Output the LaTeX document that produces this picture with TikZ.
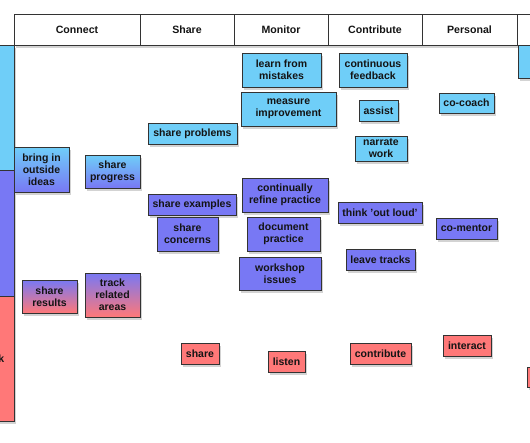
\documentclass[tikz,border=0pt]{standalone}
\usepackage{fontspec}
\setmainfont{Liberation Sans}
\usetikzlibrary{shadows}
\definecolor{cardcyan}{HTML}{6FCEF8}
\definecolor{cardblue}{HTML}{7878F4}
\definecolor{cardred}{HTML}{FF7878}
\definecolor{cardline}{HTML}{333333}
\definecolor{cardtext}{HTML}{141414}
\newcommand{\fC}{\fontsize{10.5}{11.8}\selectfont\bfseries}
\newcommand{\fH}{\fontsize{10.6}{12}\selectfont\bfseries}
\tikzset{
  card/.style={draw=cardline,line width=0.9pt,align=center,inner sep=1pt,
    font=\fC,text=cardtext,
    drop shadow={shadow xshift=1.5pt,shadow yshift=-2.5pt,opacity=0.35}},
  cyancard/.style={card,fill=cardcyan},
  bluecard/.style={card,fill=cardblue},
  redcard/.style={card,fill=cardred},
  headcell/.style={draw=cardline,line width=0.9pt,fill=white,font=\fH,
    text=cardtext,inner sep=0pt,minimum height=31},
  bar/.style={draw=cardline,line width=0.9pt}}

\begin{document}
\begin{tikzpicture}[x=1pt,y=-1pt]
  \path[use as bounding box] (0,0) rectangle (530,442);

  % header row, y = 14 .. 45
  \path[fill=white,drop shadow={shadow xshift=1.5pt,shadow yshift=-2.5pt,opacity=0.35}]
    (14,14) rectangle (560,45);
  \node[headcell,minimum width=126] (hconnect) at (77,29.5) {Connect};
  \node[headcell,minimum width=94] (hshare) at (187,29.5) {Share};
  \node[headcell,minimum width=94] (hmonitor) at (281,29.5) {Monitor};
  \node[headcell,minimum width=94] (hcontribute) at (375,29.5) {Contribute};
  \node[headcell,minimum width=95] (hpersonal) at (469.5,29.5) {Personal};
  \node[headcell,minimum width=43] (hnext) at (538.5,29.5) {};

  % left bar, three bands
  \path[fill=white,drop shadow={shadow xshift=1.5pt,shadow yshift=-2.5pt,opacity=0.35}]
    (-5,45) rectangle (14,421);
  \draw[bar,fill=cardcyan] (-5,45) rectangle (14,170);
  \draw[bar,fill=cardblue] (-5,170) rectangle (14,296);
  \draw[bar,fill=cardred] (-5,296) rectangle (14,421);
  \node[font=\fC,text=cardtext,inner sep=0pt,anchor=base east] (barlabel) at (4.5,362) {k};

  % cyan cards
  \node[cyancard,minimum width=79,minimum height=34] (learn) at (281.5,70) {learn from\\mistakes};
  \node[cyancard,minimum width=95,minimum height=34] (measure) at (288.5,109) {measure\\improvement};
  \node[cyancard,minimum width=89,minimum height=21] (problems) at (192.5,133.5) {share problems};
  \node[cyancard,minimum width=68,minimum height=34] (feedback) at (373,70) {continuous\\feedback};
  \node[cyancard,minimum width=39,minimum height=21] (assist) at (378.5,110.5) {assist};
  \node[cyancard,minimum width=55,minimum height=20] (cocoach) at (466.5,103) {co-coach};
  \node[cyancard,minimum width=52,minimum height=25] (narrate) at (381,148.5) {narrate\\work};
  \node[cyancard,minimum width=42,minimum height=33] (edgecyan) at (539,61.5) {};

  % cyan to blue, blue to red
  \node[card,top color=cardcyan,bottom color=cardblue,minimum width=55,minimum height=45]
    (bringin) at (41.5,169.5) {bring in\\outside\\ideas};
  \node[card,top color=cardcyan,bottom color=cardblue,minimum width=55,minimum height=33]
    (progress) at (112.5,171.5) {share\\progress};
  \node[card,top color=cardblue,bottom color=cardred,minimum width=55,minimum height=33]
    (results) at (49.5,296.5) {share\\results};
  \node[card,top color=cardblue,bottom color=cardred,minimum width=55,minimum height=44]
    (related) at (112.5,295) {track\\related\\areas};

  % blue cards
  \node[bluecard,minimum width=86,minimum height=34] (refine) at (285,195) {continually\\refine practice};
  \node[bluecard,minimum width=73,minimum height=34] (document) at (283.5,234) {document\\practice};
  \node[bluecard,minimum width=82,minimum height=33] (workshop) at (280,273.5) {workshop\\issues};
  \node[bluecard,minimum width=88,minimum height=21] (examples) at (192,204.5) {share examples};
  \node[bluecard,minimum width=61,minimum height=34] (concerns) at (187.5,234) {share\\concerns};
  \node[bluecard,minimum width=84,minimum height=21] (outloud) at (380,212.5) {think 'out loud'};
  \node[bluecard,minimum width=61,minimum height=21] (comentor) at (466.5,228.5) {co-mentor};
  \node[bluecard,minimum width=69,minimum height=21] (tracks) at (380.5,259.5) {leave tracks};

  % red cards
  \node[redcard,minimum width=38,minimum height=21] (share) at (200,353.5) {share};
  \node[redcard,minimum width=37,minimum height=21] (listen) at (286.5,361.5) {listen};
  \node[redcard,minimum width=61,minimum height=21] (contribute) at (380.5,353.5) {contribute};
  \node[redcard,minimum width=48,minimum height=21] (interact) at (467,345.5) {interact};
  \node[redcard,minimum width=33,minimum height=20] (edgered) at (543.5,377) {};
\end{tikzpicture}
\end{document}
